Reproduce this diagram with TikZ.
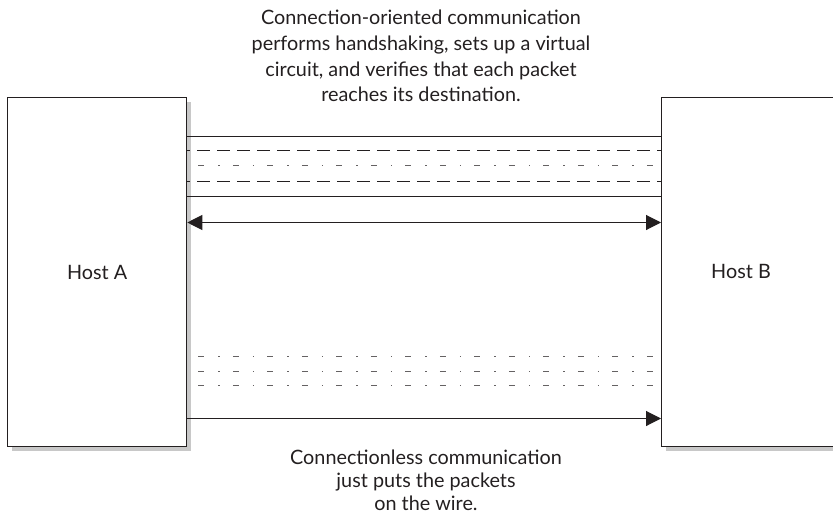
\documentclass[tikz,border=0pt]{standalone}
\usepackage{fontspec}
\setmainfont{Lato}
\usetikzlibrary{arrows.meta}
\definecolor{ink}{HTML}{231F20}
\definecolor{shade}{HTML}{C8C8C8}
\tikzset{
  x=1pt, y=1pt,
  hostbox/.style={draw=ink, line width=1.3pt, fill=white, rectangle, inner sep=0pt},
  boxshadow/.style={fill=shade, draw=none},
  solidline/.style={draw=ink, line width=1.1pt},
  dashline/.style={draw=ink, line width=1.1pt, dash pattern=on 13pt off 7pt, dash phase=-10pt},
  dotdashline/.style={draw=ink!70, line width=1pt, dash pattern=on 6pt off 14pt on 1.5pt off 13pt, dash phase=-11pt},
  arrowline/.style={draw=ink, line width=1.1pt},
  tip/.style={-{Triangle[length=15pt,width=15pt]}},
  txt/.style={font=\fontsize{19.8}{25.7}\selectfont, text=ink, align=center, inner sep=0pt},
  bottxt/.style={font=\fontsize{19.8}{23}\selectfont, text=ink, align=center, inner sep=0pt},
}
\begin{document}
\begin{tikzpicture}
\useasboundingbox (0,0) rectangle (833,-514);
% shadows
\fill[boxshadow] (12,-102) rectangle (191,-451);
\fill[boxshadow] (666,-102) rectangle (860,-451);
% boxes
\node[hostbox, minimum width=179pt, minimum height=349pt, anchor=north west] (hostA) at (7,-97) {};
\node[hostbox, minimum width=199pt, minimum height=349pt, anchor=north west] (hostB) at (661,-97) {};
\node[txt] (labA) at (hostA.center) {Host A};
\node[txt] (labB) at (741,-271.5) {Host B};
% connection-oriented lines
\coordinate (a1) at (hostA.east |- 0,-136.5);
\coordinate (b1) at (hostB.west |- 0,-136.5);
\coordinate (a2) at (hostA.east |- 0,-150.5);
\coordinate (b2) at (hostB.west |- 0,-150.5);
\coordinate (a3) at (hostA.east |- 0,-165.5);
\coordinate (b3) at (hostB.west |- 0,-165.5);
\coordinate (a4) at (hostA.east |- 0,-181.5);
\coordinate (b4) at (hostB.west |- 0,-181.5);
\coordinate (a5) at (hostA.east |- 0,-196.5);
\coordinate (b5) at (hostB.west |- 0,-196.5);
\coordinate (a6) at (hostA.east |- 0,-222.5);
\coordinate (b6) at (hostB.west |- 0,-222.5);
\draw[solidline] (a1) -- (b1);
\draw[dashline] (a2) -- (b2);
\draw[dotdashline] (a3) -- (b3);
\draw[dashline] (a4) -- (b4);
\draw[solidline] (a5) -- (b5);
\draw[arrowline, {Triangle[length=15pt,width=15pt]}-{Triangle[length=15pt,width=15pt]}] (a6) -- (b6);
% connectionless lines
\coordinate (c1) at (hostA.east |- 0,-356.5);
\coordinate (d1) at (hostB.west |- 0,-356.5);
\coordinate (c2) at (hostA.east |- 0,-371.5);
\coordinate (d2) at (hostB.west |- 0,-371.5);
\coordinate (c3) at (hostA.east |- 0,-385.5);
\coordinate (d3) at (hostB.west |- 0,-385.5);
\coordinate (c4) at (hostA.east |- 0,-418.5);
\coordinate (d4) at (hostB.west |- 0,-418.5);
\draw[dotdashline] (c1) -- (d1);
\draw[dotdashline] (c2) -- (d2);
\draw[dotdashline] (c3) -- (d3);
\draw[arrowline, tip] (c4) -- (d4);
% captions
\node[txt, anchor=north] (topcap) at (421,-10) {Connection-oriented communication\\performs handshaking, sets up a virtual\\circuit, and verifies that each packet\\reaches its destination.};
\node[bottxt, anchor=south] (botcap) at (426,-511) {Connectionless communication\\just puts the packets\\on the wire.};
\end{tikzpicture}
\end{document}
